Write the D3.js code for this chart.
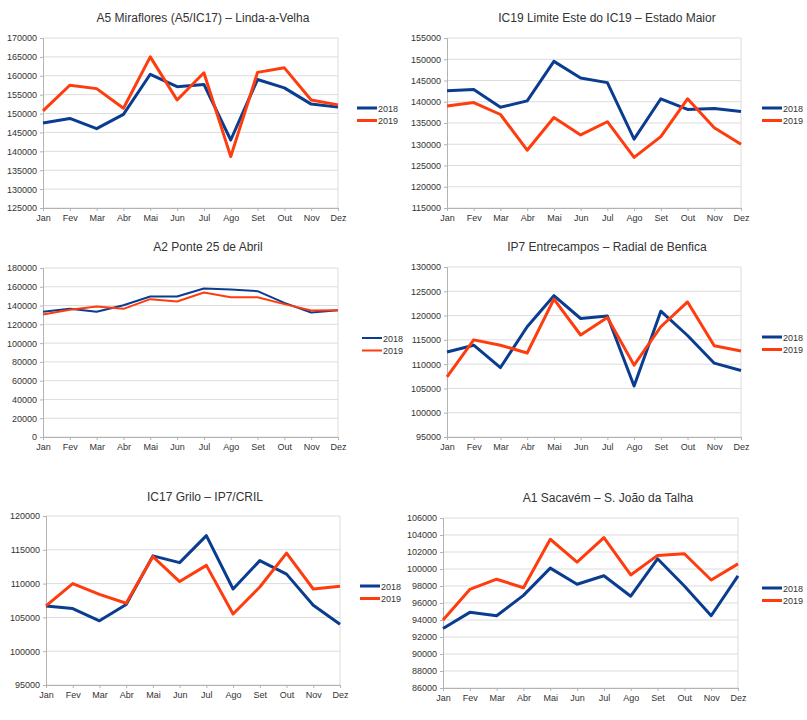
<!DOCTYPE html>
<html>
<head>
<meta charset="utf-8">
<script src="https://cdn.jsdelivr.net/npm/d3@7"></script>
<style>
  body { margin: 0; background: #fff; }
  text { font-family: "Liberation Sans", Arial, sans-serif; }
</style>
</head>
<body>
<svg id="chart" width="807" height="720"></svg>
<script>
// ---------------------------
// DATA
// ---------------------------
var months = ["Jan","Fev","Mar","Abr","Mai","Jun","Jul","Ago","Set","Out","Nov","Dez"];
var years = ["2018", "2019"];

var titles = [
  "A5 Miraflores (A5/IC17) \u2013 Linda-a-Velha",
  "IC19 Limite Este do IC19 \u2013 Estado Maior",
  "A2 Ponte 25 de Abril",
  "IP7 Entrecampos \u2013 Radial de Benfica",
  "IC17 Grilo \u2013 IP7/CRIL",
  "A1 Sacav\u00e9m \u2013 S. Jo\u00e3o da Talha"
];

var a5_2018 = [147500,148700,146000,149800,160400,157100,157700,143000,159000,156800,152500,151700];
var a5_2019 = [150700,157500,156600,151400,165000,153600,160800,138600,160900,162100,153600,152300];

var ic19_2018 = [142600,142900,138700,140200,149500,145600,144500,131200,140700,138200,138400,137700];
var ic19_2019 = [139000,139800,137000,128600,136300,132200,135300,126900,131800,140700,133900,130000];

var a2_2018 = [133400,136500,133400,140400,149600,149600,158100,157000,155300,142900,132600,135100];
var a2_2019 = [130500,135500,139000,136500,146800,144300,153900,148900,148900,141500,134800,135100];

var ip7_2018 = [112500,113900,109300,117700,124100,119400,119900,105500,120900,115900,110200,108700];
var ip7_2019 = [107400,115000,113900,112300,123400,116000,119600,109800,117700,122800,113800,112700];

var ic17_2018 = [106700,106300,104500,106900,114100,113100,117100,109200,113400,111400,106800,104000];
var ic17_2019 = [106700,110000,108400,107100,114000,110300,112700,105500,109500,114500,109200,109600];

var a1_2018 = [93000,94900,94500,96900,100100,98200,99200,96800,101200,98000,94500,99200];
var a1_2019 = [94000,97600,98800,97800,103500,100800,103700,99300,101600,101800,98700,100600];

var yTicks = [
  d3.range(125000, 170001, 5000),
  d3.range(115000, 155001, 5000),
  d3.range(0, 180001, 20000),
  d3.range(95000, 130001, 5000),
  d3.range(95000, 120001, 5000),
  d3.range(86000, 106001, 2000)
];

var series = [
  [a5_2018, a5_2019],
  [ic19_2018, ic19_2019],
  [a2_2018, a2_2019],
  [ip7_2018, ip7_2019],
  [ic17_2018, ic17_2019],
  [a1_2018, a1_2019]
];

// ---------------------------
// LAYOUT
// ---------------------------
var colours = ["#0a3c8f", "#ff3c0e"];
var layout = [
  {x0: 43,  x1: 338, y0: 38,  y1: 208, tx: 203, ty: 22,  lx: 357, ly: 108, lw: 3},
  {x0: 447, x1: 741, y0: 38,  y1: 208, tx: 607, ty: 22,  lx: 762, ly: 108, lw: 3},
  {x0: 43,  x1: 338, y0: 268, y1: 437, tx: 208, ty: 251, lx: 362, ly: 338, lw: 2},
  {x0: 447, x1: 741, y0: 267, y1: 437, tx: 607, ty: 251, lx: 762, ly: 337, lw: 3},
  {x0: 46,  x1: 340, y0: 516, y1: 685, tx: 205, ty: 501, lx: 360, ly: 586, lw: 3},
  {x0: 443, x1: 738, y0: 518, y1: 688, tx: 608, ty: 502, lx: 762, ly: 588, lw: 3}
];

var svg = d3.select("#chart");

layout.forEach(function(p, k) {
  var ticks = yTicks[k];
  var x = d3.scalePoint().domain(months).range([p.x0, p.x1]);
  var y = d3.scaleLinear().domain([ticks[0], ticks[ticks.length - 1]]).range([p.y1, p.y0]);
  var g = svg.append("g");

  // title
  g.append("text")
    .attr("x", p.tx).attr("y", p.ty)
    .attr("text-anchor", "middle")
    .attr("font-size", 12)
    .attr("fill", "#333")
    .text(titles[k]);

  // grid
  g.selectAll(".grid").data(ticks).enter().append("line")
    .attr("x1", p.x0).attr("x2", p.x1)
    .attr("y1", function(d) { return y(d); })
    .attr("y2", function(d) { return y(d); })
    .attr("stroke", "#dcdcdc").attr("stroke-width", 1);

  // right edge
  g.append("line")
    .attr("x1", p.x1).attr("x2", p.x1).attr("y1", p.y0).attr("y2", p.y1)
    .attr("stroke", "#dcdcdc");

  // y axis
  var ya = g.append("g")
    .attr("transform", "translate(" + p.x0 + ",0)")
    .call(d3.axisLeft(y).tickValues(ticks).tickFormat(d3.format("d")).tickSize(3).tickPadding(3));
  ya.select(".domain").attr("stroke", "#b3b3b3");
  ya.selectAll(".tick line").attr("stroke", "#b3b3b3");
  ya.selectAll("text").attr("font-size", 9).attr("fill", "#333")
    .attr("font-family", "Liberation Sans, Arial, sans-serif");

  // x axis
  var xa = g.append("g")
    .attr("transform", "translate(0," + p.y1 + ")")
    .call(d3.axisBottom(x).tickSize(3).tickPadding(4));
  xa.select(".domain").attr("stroke", "#b3b3b3");
  xa.selectAll(".tick line").attr("stroke", "#b3b3b3");
  xa.selectAll("text").attr("font-size", 9).attr("fill", "#333")
    .attr("font-family", "Liberation Sans, Arial, sans-serif");

  // lines
  var line = d3.line()
    .x(function(d, i) { return x(months[i]); })
    .y(function(d) { return y(d); });

  series[k].forEach(function(vals, s) {
    g.append("path")
      .datum(vals)
      .attr("d", line)
      .attr("fill", "none")
      .attr("stroke", colours[s])
      .attr("stroke-width", p.lw)
      .attr("stroke-linejoin", "round");
  });

  // legend
  years.forEach(function(yr, s) {
    var ly = p.ly + s * 12.5;
    g.append("line")
      .attr("x1", p.lx).attr("x2", p.lx + 20)
      .attr("y1", ly).attr("y2", ly)
      .attr("stroke", colours[s]).attr("stroke-width", p.lw);
    g.append("text")
      .attr("x", p.lx + 21).attr("y", ly + 3.5)
      .attr("font-size", 9).attr("fill", "#333")
      .text(yr);
  });
});
</script>
</body>
</html>
